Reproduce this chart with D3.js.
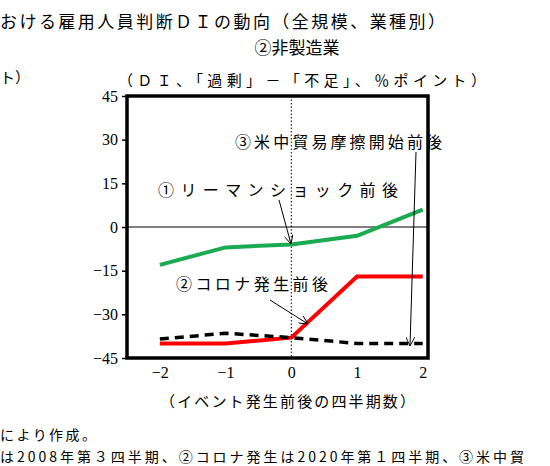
<!DOCTYPE html><html><head><meta charset="utf-8"><script src="https://cdn.jsdelivr.net/npm/d3@7"></script>
<style>body{margin:0;background:#fff}</style></head><body><svg id="c" width="550" height="466"></svg><script>
const periods=[-2,-1,0,1,2];
const lehman=[-13,-7,-6,-3,6];
const corona=[-40,-40,-38,-17,-17];
const tradewar=[-38.5,-36.5,-38,-40,-40];
const yTicks=[45,30,15,0,-15,-30,-45];
const svg=d3.select("#c");
const x=d3.scaleLinear().domain([-2.5,2.08]).range([127,428]);
const y=d3.scaleLinear().domain([-45,45]).range([358,96]);
const serif="'Liberation Serif','DejaVu Serif',serif", jp="'Noto Sans CJK JP',sans-serif";
const t=(s,xx,yy,o={})=>{const e=svg.append("text").attr("x",xx).attr("y",yy).attr("font-family",o.f||jp).attr("font-size",o.s||15).attr("text-anchor",o.a||"start").attr("fill","#000").text(s);if(o.w)e.attr("textLength",o.w).attr("lengthAdjust","spacing");return e;};
t("おける雇用人員判断ＤＩの動向（全規模、業種別）",0,28,{s:17,w:445});
t("②非製造業",297,54,{s:17,a:"middle"});
t("ト）",0,83,{s:15});
t("（ＤＩ、「過剰」－「不足」、％ポイント）",118,86,{s:15,w:368});
svg.append("line").attr("x1",x(-2.5)).attr("x2",x(2.08)).attr("y1",y(0)).attr("y2",y(0)).attr("stroke","#000").attr("stroke-width",1);
svg.append("line").attr("x1",x(0)).attr("x2",x(0)).attr("y1",y(45)).attr("y2",y(-45)).attr("stroke","#000").attr("stroke-dasharray","1.5,2").attr("stroke-width",1);
const ln=d3.line().x((d,i)=>x(periods[i])).y(d=>y(d));
svg.append("path").attr("d",ln(lehman)).attr("fill","none").attr("stroke","#1aaa50").attr("stroke-width",4);
svg.append("path").attr("d",ln(corona)).attr("fill","none").attr("stroke","#ff0000").attr("stroke-width",4);
svg.append("path").attr("d",ln(tradewar)).attr("fill","none").attr("stroke","#000").attr("stroke-width",3.5).attr("stroke-dasharray","9,6");
svg.append("rect").attr("x",127).attr("y",96).attr("width",301).attr("height",262).attr("fill","none").attr("stroke","#000").attr("stroke-width",3.5);
const ya=svg.append("g").attr("transform","translate(127,0)").call(d3.axisLeft(y).tickValues(yTicks).tickSize(5).tickPadding(4));
ya.select(".domain").remove();ya.selectAll("text").attr("font-family",serif).attr("font-size",16);ya.selectAll("line").attr("stroke-width",1.5);
const xa=svg.append("g").attr("transform","translate(0,358)").call(d3.axisBottom(x).tickValues(periods).tickSize(0).tickPadding(9).tickFormat(d=>d<0?"−"+(-d):d));
xa.select(".domain").remove();xa.selectAll("text").attr("font-family",serif).attr("font-size",16);
t("（イベント発生前後の四半期数）",160,407,{s:15,w:255});
t("により作成。",0,440,{s:14,w:96});
t("は2008年第３四半期、②コロナ発生は2020年第１四半期、③米中貿",0,462,{s:14,w:524});
svg.append("defs").append("marker").attr("id","ar").attr("viewBox","0 0 10 10").attr("refX",10).attr("refY",5).attr("markerWidth",9).attr("markerHeight",9).attr("orient","auto").append("path").attr("d","M0,0L10,5L0,10").attr("fill","none").attr("stroke","#000");
const ar=(a,b,c,d)=>svg.append("line").attr("x1",a).attr("y1",b).attr("x2",c).attr("y2",d).attr("stroke","#000").attr("stroke-width",1).attr("marker-end","url(#ar)");
t("③米中貿易摩擦開始前後",235,148,{s:16,w:207});
ar(416,152,410,346);
t("①リーマンショック前後",158,196,{s:16,w:240});
ar(279,200,291,244);
t("②コロナ発生前後",176,290,{s:16,w:152});
ar(270,300,308,324);
</script></body></html>
